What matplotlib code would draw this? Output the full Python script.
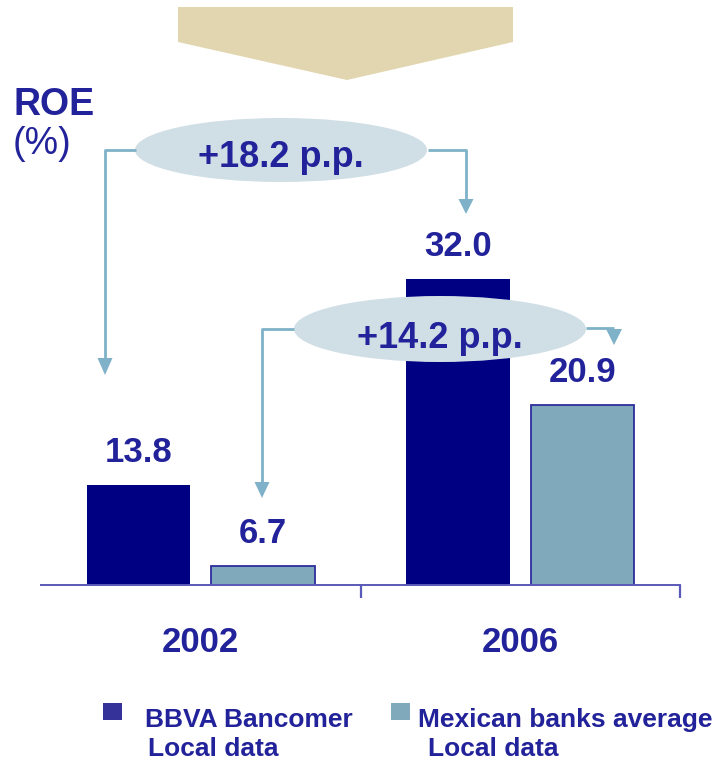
import matplotlib
matplotlib.use("Agg")
import matplotlib.pyplot as plt
from matplotlib.patches import Polygon, Ellipse, Rectangle

# ---- data ----
years = ["2002", "2006"]
series_names = ["BBVA Bancomer", "Mexican banks average"]
series_sub = ["Local data", "Local data"]
bbva = [13.8, 32.0]
mexican = [6.7, 20.9]
value_labels_bbva = ["13.8", "32.0"]
value_labels_mex = ["6.7", "20.9"]
delta_labels = ["+18.2 p.p.", "+14.2 p.p."]
y_title = "ROE"
y_unit = "(%)"

# ---- style ----
W, H = 715, 761
DPI = 100
NAVY = "#000082"
STEEL = "#80a9bb"
EDGE = "#2e2e9c"
TXT = "#22229a"
AXC = "#5a5ab8"
ARROW = "#7fb2c8"
ELL = "#d0dee6"
BANNER = "#e2d6b0"
FONT = "Liberation Sans"
PT = 72.0 / DPI  # points per pixel

fig = plt.figure(figsize=(W / DPI, H / DPI), dpi=DPI)

# bar axes: baseline at 585 px from top, axis from x=41 to x=680 px
base_px = 585
px_per_unit = 11.35
ymin = 5.0
ax = fig.add_axes([41 / W, (H - base_px) / H, (680 - 41) / W, base_px / H])
ax.set_xlim(-0.5, 1.5)
ax.set_ylim(ymin, ymin + base_px / px_per_unit)

bw = 0.325
off = 0.195
xs = list(range(len(years)))
ax.bar([x - off for x in xs], bbva, width=bw, color=NAVY, linewidth=0, zorder=2)
ax.bar([x + off for x in xs], mexican, width=bw, color=STEEL, edgecolor=EDGE,
       linewidth=1.3, zorder=2)

for x, v, s in zip(xs, bbva, value_labels_bbva):
    ax.annotate(s, (x - off, v), xytext=(0, 23 * PT), textcoords="offset points",
                ha="center", va="baseline", fontsize=25, fontweight="bold",
                color=TXT, family=FONT, zorder=3)
for x, v, s in zip(xs, mexican, value_labels_mex):
    ax.annotate(s, (x + off, v), xytext=(0, 23 * PT), textcoords="offset points",
                ha="center", va="baseline", fontsize=25, fontweight="bold",
                color=TXT, family=FONT, zorder=3)

for x, s in zip(xs, years):
    ax.annotate(s, (x, 0), xycoords=("data", "axes fraction"),
                xytext=(0, -67 * PT), textcoords="offset points",
                ha="center", va="baseline", fontsize=25, fontweight="bold",
                color=TXT, family=FONT, annotation_clip=False)

for sp in ["top", "right", "left"]:
    ax.spines[sp].set_visible(False)
ax.spines["bottom"].set_color(AXC)
ax.spines["bottom"].set_linewidth(1.4)
ax.set_yticks([])
ax.set_xticks([0.5, 1.5])
ax.set_xticklabels([])
ax.tick_params(axis="x", length=13 * PT, width=1.6, color=AXC, direction="out")
ax.patch.set_alpha(0)

# ---- overlay in pixel coordinates for decorations ----
ov = fig.add_axes([0, 0, 1, 1], zorder=5)
ov.set_xlim(0, W)
ov.set_ylim(H, 0)
ov.axis("off")
ov.patch.set_alpha(0)

# banner
ov.add_patch(Polygon([(178, 7), (513, 7), (513, 42), (347, 80), (178, 42)],
                     closed=True, facecolor=BANNER, edgecolor="none"))

# ROE title
ov.text(13, 115, y_title, fontsize=27, fontweight="bold", color=TXT,
        family=FONT, ha="left", va="baseline")
ov.text(13, 154, y_unit, fontsize=27, color=TXT, family=FONT,
        ha="left", va="baseline")

def head(x, ytop, ytip, hw=7.5):
    ov.add_patch(Polygon([(x - hw, ytop), (x + hw, ytop), (x, ytip)],
                         closed=True, facecolor=ARROW, edgecolor="none"))

lw = 2.0
# connector 1
ov.plot([136, 105, 105], [150, 150, 360], color=ARROW, lw=lw, solid_capstyle="butt")
head(105, 358, 375)
ov.plot([428, 466, 466], [150, 150, 200], color=ARROW, lw=lw, solid_capstyle="butt")
head(466, 199, 214)
# connector 2
ov.plot([294, 262, 262], [329, 329, 484], color=ARROW, lw=lw, solid_capstyle="butt")
head(262, 482, 498)
ov.plot([586, 614], [328, 328], color=ARROW, lw=lw, solid_capstyle="butt")
head(614, 329, 345, hw=8)

# ellipses
ov.add_patch(Ellipse((281, 150), 292, 64, facecolor=ELL, edgecolor="none"))
ov.add_patch(Ellipse((440, 329), 292, 66, facecolor=ELL, edgecolor="none"))
ov.text(281, 167, delta_labels[0], fontsize=26, fontweight="bold", color=TXT,
        family=FONT, ha="center", va="baseline")
ov.text(440, 348, delta_labels[1], fontsize=26, fontweight="bold", color=TXT,
        family=FONT, ha="center", va="baseline")

# legend
leg_colors = ["#35339a", STEEL]
sq_x = [103, 391]
txt_x = [145, 418]
sub_x = [148, 428]
for i in range(2):
    ov.add_patch(Rectangle((sq_x[i], 703), 19, 17, facecolor=leg_colors[i], edgecolor="none"))
    ov.text(txt_x[i], 727, series_names[i], fontsize=19, fontweight="bold",
            color=TXT, family=FONT, ha="left", va="baseline")
    ov.text(sub_x[i], 756, series_sub[i], fontsize=19, fontweight="bold",
            color=TXT, family=FONT, ha="left", va="baseline")

fig.savefig("out.png", dpi=DPI)
